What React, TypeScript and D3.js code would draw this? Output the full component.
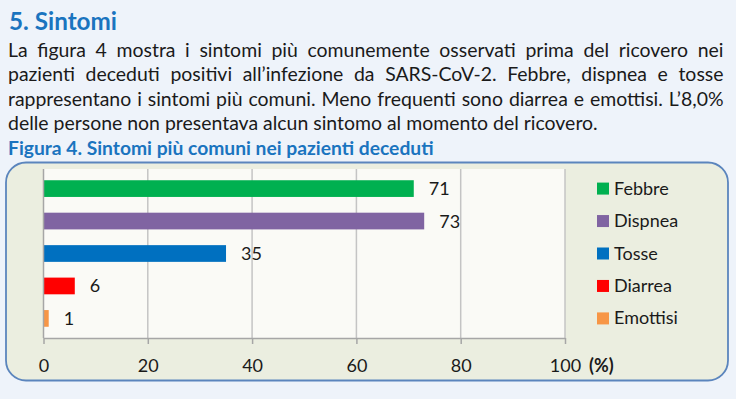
import React, { useEffect, useRef } from 'react';
import * as d3 from 'd3';

const categories = ['Febbre', 'Dispnea', 'Tosse', 'Diarrea', 'Emottisi'];
const values = [71, 73, 35, 6, 1];
const colors = ['#00b050', '#8064a2', '#0070c0', '#ff0000', '#f79646'];
const xTicks = [0, 20, 40, 60, 80, 100];

const title = '5. Sintomi';
const paragraph = [
  'La figura 4 mostra i sintomi più comunemente osservati prima del ricovero nei',
  'pazienti deceduti positivi all’infezione da SARS-CoV-2. Febbre, dispnea e tosse',
  'rappresentano i sintomi più comuni. Meno frequenti sono diarrea e emottisi. L’8,0%',
  'delle persone non presentava alcun sintomo al momento del ricovero.'
];
const caption = 'Figura 4. Sintomi più comuni nei pazienti deceduti';

const W = 736;
const H = 399;
const FONT = 'Lato, "Open Sans", sans-serif';

export default function App() {
  const ref = useRef<SVGSVGElement>(null);

  useEffect(() => {
    const svg = d3.select(ref.current);
    svg.selectAll('*').remove();

    svg.append('rect').attr('width', W).attr('height', H).attr('fill', '#eef3fa');

    // font size that makes a string span the given width
    const fitSize = (str: string, width: number, weight: number) => {
      const probe = svg.append('text').attr('font-family', FONT)
        .attr('font-weight', weight).attr('font-size', 20).text(str);
      const w = (probe.node() as SVGTextElement).getComputedTextLength();
      probe.remove();
      return 20 * width / w;
    };

    // heading
    svg.append('text')
      .attr('x', 9).attr('y', 30)
      .attr('font-family', FONT).attr('font-weight', 700)
      .attr('font-size', fitSize(title, 108, 700))
      .attr('fill', '#1a74bf')
      .text(title);

    // paragraph, justified like the source
    const left = 8, right = 723.5;
    const baselines = [56.5, 81, 105.5, 130];
    const fs = fitSize(paragraph[paragraph.length - 1], 598 - left, 400);

    paragraph.forEach((line, i) => {
      const g = svg.append('g')
        .attr('font-family', FONT).attr('font-size', fs).attr('fill', '#1a1a1a');
      if (i === paragraph.length - 1) {
        g.append('text').attr('x', left).attr('y', baselines[i]).text(line);
        return;
      }
      const words = line.split(' ');
      const nodes = words.map(w => g.append('text').attr('y', baselines[i]).text(w));
      const widths = nodes.map(n => (n.node() as SVGTextElement).getComputedTextLength());
      const gap = (right - left - d3.sum(widths)) / (words.length - 1);
      let x = left;
      nodes.forEach((n, j) => {
        n.attr('x', x);
        x += widths[j] + gap;
      });
    });

    svg.append('text')
      .attr('x', 8).attr('y', 154.5)
      .attr('font-family', FONT).attr('font-weight', 700)
      .attr('font-size', fitSize(caption, 426, 700))
      .attr('fill', '#1a74bf')
      .text(caption);

    // chart frame
    svg.append('rect')
      .attr('x', 6).attr('y', 162.5).attr('width', 722).attr('height', 218)
      .attr('rx', 20).attr('ry', 20)
      .attr('fill', '#ebeee0').attr('stroke', '#5b85bd').attr('stroke-width', 1.8);

    const scaleX = d3.scaleLinear().domain([0, 100]).range([43.5, 565]);
    const scaleY = d3.scaleBand<string>()
      .domain(categories)
      .range([169, 338])
      .paddingInner(0.485)
      .paddingOuter(0.346);

    // plot area
    svg.append('rect')
      .attr('x', scaleX(0)).attr('y', 169)
      .attr('width', scaleX(100) - scaleX(0)).attr('height', 338 - 169)
      .attr('fill', '#fafaf6');

    // gridlines
    svg.append('g').selectAll('line')
      .data(xTicks.slice(1))
      .enter().append('line')
      .attr('x1', d => scaleX(d)).attr('x2', d => scaleX(d))
      .attr('y1', 169).attr('y2', 338)
      .attr('stroke', '#c4c4c4').attr('stroke-width', 1.5);

    // bars
    svg.append('g').selectAll('rect')
      .data(values)
      .enter().append('rect')
      .attr('x', scaleX(0))
      .attr('y', (d, i) => scaleY(categories[i]) as number)
      .attr('width', d => scaleX(d) - scaleX(0))
      .attr('height', scaleY.bandwidth())
      .attr('fill', (d, i) => colors[i]);

    // value labels
    svg.append('g').selectAll('text')
      .data(values)
      .enter().append('text')
      .attr('x', d => scaleX(d) + 15)
      .attr('y', (d, i) => (scaleY(categories[i]) as number) + scaleY.bandwidth() / 2 + 6.5)
      .attr('font-family', FONT).attr('font-size', 18).attr('fill', '#1a1a1a')
      .text(d => d);

    // x axis
    const axis = svg.append('g')
      .attr('transform', 'translate(0,338)')
      .call(d3.axisBottom(scaleX).tickValues(xTicks).tickSize(6).tickPadding(15).tickSizeOuter(0));
    axis.select('.domain').attr('stroke', '#a6a6a6').attr('stroke-width', 1.5);
    axis.selectAll('.tick line').attr('stroke', '#a6a6a6').attr('stroke-width', 1.5);
    axis.selectAll('.tick text')
      .attr('font-family', FONT).attr('font-size', 18).attr('fill', '#1a1a1a');

    // y axis line
    svg.append('line')
      .attr('x1', scaleX(0)).attr('x2', scaleX(0))
      .attr('y1', 169).attr('y2', 338)
      .attr('stroke', '#a6a6a6').attr('stroke-width', 1.5);

    svg.append('text')
      .attr('x', 589).attr('y', 372)
      .attr('font-family', FONT).attr('font-weight', 700).attr('font-size', 18)
      .attr('fill', '#1a1a1a')
      .text('(%)');

    // legend
    const legend = svg.append('g').selectAll('g')
      .data(categories)
      .enter().append('g')
      .attr('transform', d => `translate(597,${(scaleY(d) as number) + scaleY.bandwidth() / 2})`);
    legend.append('rect')
      .attr('x', 0).attr('y', -6).attr('width', 12).attr('height', 12)
      .attr('fill', (d, i) => colors[i]);
    legend.append('text')
      .attr('x', 17).attr('y', 6)
      .attr('font-family', FONT).attr('font-size', 18).attr('fill', '#1a1a1a')
      .text(d => d);
  }, []);

  return (
    <svg ref={ref} width={W} height={H}
      style={{ position: 'absolute', left: 0, top: 0, display: 'block' }} />
  );
}
